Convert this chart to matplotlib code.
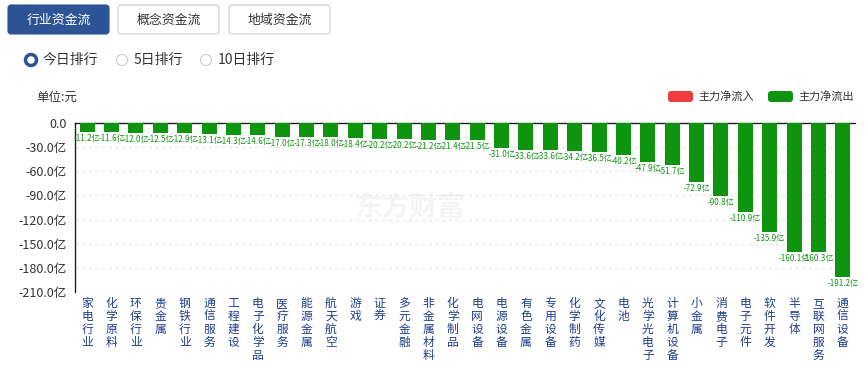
import matplotlib
matplotlib.use("Agg")
import matplotlib.pyplot as plt
from matplotlib.patches import FancyBboxPatch, Circle

plt.rcParams['font.family'] = ['Noto Sans CJK SC', 'DejaVu Sans']

# industry names and main-force net outflow (亿元)
industries = ['家电行业', '化学原料', '环保行业', '贵金属', '钢铁行业', '通信服务', '工程建设',
              '电子化学品', '医疗服务', '能源金属', '航天航空', '游戏', '证券', '多元金融',
              '非金属材料', '化学制品', '电网设备', '电源设备', '有色金属', '专用设备', '化学制药',
              '文化传媒', '电池', '光学光电子', '计算机设备', '小金属', '消费电子', '电子元件',
              '软件开发', '半导体', '互联网服务', '通信设备']
net_flow = [-11.2, -11.6, -12.0, -12.5, -12.9, -13.1, -14.3, -14.6, -17.0, -17.3, -18.0,
            -18.4, -20.2, -20.2, -21.2, -21.4, -21.5, -31.0, -33.6, -33.6, -34.2, -36.5,
            -40.2, -47.9, -51.7, -72.9, -90.8, -110.9, -135.9, -160.1, -160.3, -191.2]
y_ticks = [0, -30, -60, -90, -120, -150, -180, -210]
tabs = ['行业资金流', '概念资金流', '地域资金流']
ranks = ['今日排行', '5日排行', '10日排行']

W, H = 867, 366
GREEN = '#0f940f'
RED = '#f03c3c'
NAVY = '#2d5595'

fig = plt.figure(figsize=(W / 100, H / 100), dpi=100)

# overlay axes in pixel coords for the page controls
ov = fig.add_axes([0, 0, 1, 1])
ov.set_xlim(0, W)
ov.set_ylim(H, 0)
ov.axis('off')

tab_x = [8, 118, 229]
for i, (tx, name) in enumerate(zip(tab_x, tabs)):
    sel = i == 0
    ov.add_patch(FancyBboxPatch((tx, 5), 101, 29, boxstyle='round,pad=0,rounding_size=3',
                                fc=NAVY if sel else 'white', ec=NAVY if sel else '#cccccc', lw=0.8))
    ov.text(tx + 50.5, 20, name, ha='center', va='center', fontsize=9.3,
            color='white' if sel else '#333333')

radio_x = [31, 122, 206]
for i, (rx, name) in enumerate(zip(radio_x, ranks)):
    if i == 0:
        ov.add_patch(Circle((rx, 60), 5.5, fc='white', ec=NAVY, lw=2.5))
    else:
        ov.add_patch(Circle((rx, 60), 5.5, fc='white', ec='#cccccc', lw=0.8))
    ov.text(rx + 12, 60, name, ha='left', va='center', fontsize=10, color='#333333')

ov.text(36, 97, '单位:元', ha='left', va='center', fontsize=9, color='#333333')

# legend
ov.add_patch(FancyBboxPatch((668, 91), 25, 11, boxstyle='round,pad=0,rounding_size=3', fc=RED, ec='none'))
ov.text(698, 96.5, '主力净流入', ha='left', va='center', fontsize=8, color='#333333')
ov.add_patch(FancyBboxPatch((768, 91), 25, 11, boxstyle='round,pad=0,rounding_size=3', fc=GREEN, ec='none'))
ov.text(798, 96.5, '主力净流出', ha='left', va='center', fontsize=8, color='#333333')

# faint watermark
ov.text(410, 208, '东方财富', ha='center', va='center', fontsize=20, color='#f4f4f4',
        fontweight='bold', style='italic')

# main chart
ax = fig.add_axes([75 / W, (H - 292) / H, 780 / W, 169 / H])
ax.patch.set_alpha(0)
xs = list(range(len(industries)))
ax.bar(xs, net_flow, width=0.62, color=GREEN, zorder=3)
ax.set_xlim(-0.5, len(industries) - 0.5)
ax.set_ylim(-210, 0)

# value labels under each bar
for x, v in zip(xs, net_flow):
    ax.text(x, v - 2.5, f'{v:.1f}亿', ha='center', va='top', fontsize=5.8, color=GREEN, zorder=4)

ax.set_yticks(y_ticks)
ax.set_yticklabels(['0.0' if t == 0 else f'{t:.1f}亿' for t in y_ticks], fontsize=9, color='#333333')
ax.tick_params(axis='y', length=0, pad=6)
ax.set_xticks([])
for t in y_ticks[1:]:
    ax.axhline(t, color='#e6e6e6', lw=0.8, ls=(0, (3, 3)), zorder=1)

for s in ['bottom', 'right']:
    ax.spines[s].set_visible(False)
for s in ['top', 'left']:
    ax.spines[s].set_color('#222222')
    ax.spines[s].set_linewidth(1.0)

# vertical category labels below the plot
for x, name in zip(xs, industries):
    ax.text(x, -0.03, '\n'.join(name), transform=ax.get_xaxis_transform(), ha='center', va='top',
            fontsize=8.5, color='#1f3f8c', linespacing=1.0)

fig.savefig('out.png', dpi=100)
